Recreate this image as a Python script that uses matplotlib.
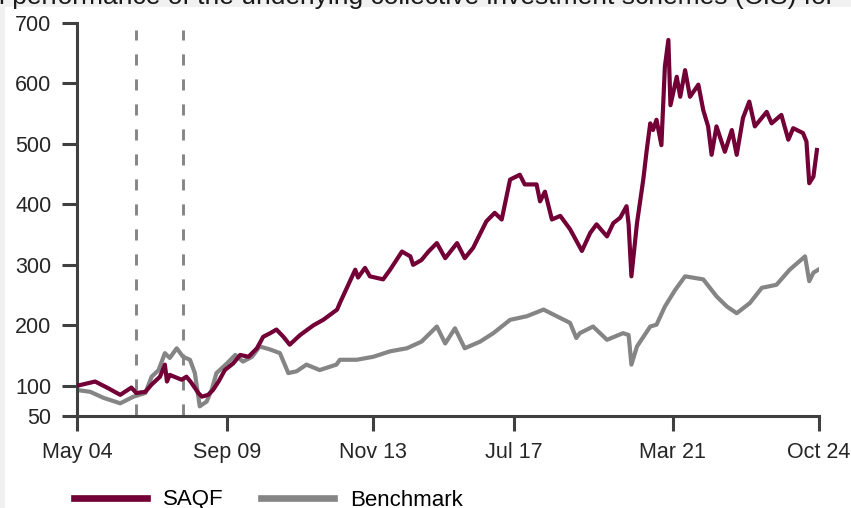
import matplotlib
matplotlib.use("Agg")
import matplotlib.pyplot as plt
from matplotlib.lines import Line2D
from matplotlib.patches import Rectangle

plt.rcParams['font.family'] = ['Liberation Sans', 'DejaVu Sans']
plt.rcParams['lines.scale_dashes'] = False

saqf_obs = [0, 26, 43, 62, 78, 85, 98, 107, 119, 126, 129, 133, 150, 157, 164, 174, 179,
            188, 195, 203, 212, 224, 234, 246, 258, 267, 277, 286, 296, 305, 320, 339,
            353, 373, 377, 387, 399, 403, 413, 420, 439, 449, 466, 478, 482, 494, 504,
            516, 528, 545, 556, 568, 587, 599, 609, 621, 635, 642, 659, 664, 671, 681,
            693, 707, 724, 736, 745, 760, 769, 779, 788, 791, 795, 803, 812, 817, 822,
            826, 831, 838, 843, 848, 851, 860, 865, 872, 879, 891, 898, 905, 910, 917,
            929, 939, 946, 955, 964, 972, 989, 996, 1010, 1020, 1027, 1041, 1046, 1050,
            1056, 1061]
saqf = [100, 107, 97, 85, 97, 88, 90, 102, 115, 135, 107, 118, 110, 115, 105, 88, 82,
        85, 93, 107, 126, 137, 151, 148, 162, 181, 187, 193, 181, 168, 184, 200,
        209, 226, 237, 262, 292, 279, 295, 281, 276, 292, 322, 314, 300, 308, 322,
        336, 311, 336, 311, 328, 372, 386, 375, 441, 449, 433, 433, 405, 421, 375,
        381, 359, 323, 353, 367, 347, 369, 378, 397, 367, 281, 369, 441, 490, 534,
        523, 540, 498, 628, 672, 564, 611, 578, 622, 578, 598, 556, 529, 482, 529,
        487, 523, 482, 543, 570, 529, 553, 534, 548, 507, 526, 518, 504, 435,
        446, 490]

bench_obs = [0, 19, 38, 62, 81, 98, 107, 117, 126, 133, 143, 152, 162, 169, 176, 186,
             193, 200, 215, 227, 238, 251, 262, 277, 291, 303, 315, 329, 348, 372, 377,
             401, 425, 449, 473, 494, 516, 528, 542, 556, 578, 597, 621, 645, 669, 688,
             707, 716, 721, 740, 760, 783, 791, 795, 803, 822, 831, 843, 858, 872, 898,
             917, 932, 946, 965, 982, 1003, 1022, 1044, 1050, 1056, 1063]
bench = [93, 90, 80, 71, 82, 88, 115, 126, 154, 146, 162, 148, 143, 121, 66, 74,
         93, 121, 137, 151, 140, 148, 165, 160, 154, 121, 124, 135, 126, 135, 143,
         143, 148, 157, 162, 173, 198, 170, 195, 162, 173, 187, 209, 215, 226, 215,
         204, 179, 187, 198, 176, 187, 184, 135, 165, 198, 201, 231, 259, 281, 276,
         248, 231, 220, 237, 262, 267, 292, 314, 273, 287, 292]

tick_obs = [0, 215, 425, 626, 854, 1064]
tick_labels = ['May 04', 'Sep 09', 'Nov 13', 'Jul 17', 'Mar 21', 'Oct 24']
y_ticks = [50, 100, 200, 300, 400, 500, 600, 700]
event_obs = [85, 152]

maroon = '#720036'
grey = '#858585'
dark = '#404040'

fig = plt.figure(figsize=(8.51, 5.08), dpi=100, facecolor='#f1f1f1')
fig.patches.append(Rectangle((5 / 851, 0), 1, 1 - 7 / 508, transform=fig.transFigure,
                             facecolor='white', edgecolor='none', zorder=-1))
fig.text(-0.001, 1 - 4 / 508, 'l performance of the underlying collective investment schemes (CIS) for',
         fontsize=19, color='#1a1a1a', ha='left', va='baseline')

ax = fig.add_axes([77 / 851, 1 - 416 / 508, (819 - 77) / 851, (416 - 23) / 508])
ax.set_facecolor('white')

# dashed event markers
for e in event_obs:
    ax.plot([e, e], [52, 688], color=grey, lw=2.1, dashes=(8, 10), zorder=1)

ax.plot(bench_obs, bench, color=grey, lw=3, zorder=2, solid_joinstyle='round')
ax.plot(saqf_obs, saqf, color=maroon, lw=3, zorder=3, solid_joinstyle='round')

ax.set_xlim(0, 1064)
ax.set_ylim(50, 700)
ax.set_xticks(tick_obs)
ax.set_xticklabels(tick_labels)
ax.set_yticks(y_ticks)

for s in ['top', 'right']:
    ax.spines[s].set_visible(False)
for s in ['left', 'bottom']:
    ax.spines[s].set_color(dark)
    ax.spines[s].set_linewidth(2.2)
ax.tick_params(axis='both', direction='out', length=10.5, width=2.2, color=dark,
               labelsize=15.5, labelcolor='#262626')
ax.tick_params(axis='y', pad=8)
ax.tick_params(axis='x', pad=8)

handles = [Line2D([], [], color=maroon, lw=4.8), Line2D([], [], color=grey, lw=4.8)]
fig.legend(handles, ['SAQF', 'Benchmark'], loc='center left',
           bbox_to_anchor=(74 / 851, 1 - 500 / 508), ncol=2, frameon=False,
           fontsize=16, handlelength=3.3, handletextpad=0.72, columnspacing=1.65,
           borderpad=0, borderaxespad=0)

fig.savefig('out.png', dpi=100, facecolor=fig.get_facecolor())
